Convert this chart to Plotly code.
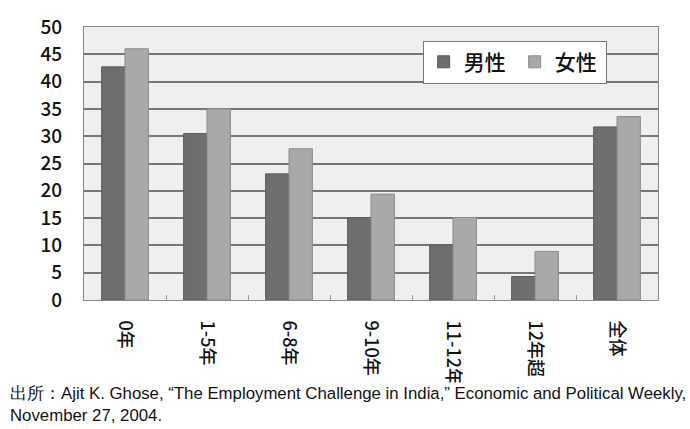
import plotly.graph_objects as go

# Years of schooling categories and shares (%) by sex
categories = ["0年", "1-5年", "6-8年", "9-10年", "11-12年", "12年超", "全体"]
male = [42.7, 30.5, 23.1, 15.1, 10.1, 4.3, 31.7]
female = [46.0, 35.0, 27.7, 19.4, 15.1, 8.9, 33.6]
y_ticks = [0, 5, 10, 15, 20, 25, 30, 35, 40, 45, 50]
source_text = ("出所：Ajit K. Ghose, “The Employment Challenge in India,” Economic and Political Weekly,<br>"
               "November 27, 2004.")

CJK = "Noto Sans CJK JP"

fig = go.Figure()
fig.add_trace(go.Bar(
    x=categories, y=male, name="男性",
    marker=dict(color="#6e6e6e", line=dict(color="#5a5a5a", width=1)),
))
fig.add_trace(go.Bar(
    x=categories, y=female, name="女性",
    marker=dict(color="#a9a9a9", line=dict(color="#8a8a8a", width=1)),
))

fig.update_layout(
    width=690, height=429,
    margin=dict(l=84, r=32, t=27, b=129),
    paper_bgcolor="white",
    plot_bgcolor="#efefef",
    barmode="group",
    bargap=0.43,
    bargroupgap=0,
    font=dict(family=CJK, color="#111111", size=18),
    legend=dict(
        orientation="h",
        x=0.59, y=0.95, xanchor="left", yanchor="top",
        bgcolor="white", bordercolor="#777777", borderwidth=1,
        font=dict(family=CJK, size=21, color="#111111", weight=500),
        itemwidth=30,
        entrywidth=46, entrywidthmode="pixels",
        tracegroupgap=0,
    ),
    xaxis=dict(
        tickangle=90,
        showline=True, linecolor="#888888", linewidth=1, mirror=True,
        ticks="inside", tickson="boundaries", ticklen=5, tickcolor="#999999",
        ticklabelstandoff=16,
        tickfont=dict(family=CJK, size=18, color="#111111", weight=500),
        showgrid=False,
    ),
    yaxis=dict(
        range=[0, 50],
        tickvals=y_ticks,
        showline=True, linecolor="#888888", linewidth=1, mirror=True,
        gridcolor="#777777", gridwidth=2,
        ticks="", ticklabelstandoff=17,
        tickfont=dict(family=CJK, size=19, color="#111111", weight=500),
        zeroline=False,
    ),
    showlegend=True,
)

fig.add_annotation(
    text=source_text,
    xref="paper", yref="paper", x=-0.132, y=-0.3,
    xanchor="left", yanchor="top", align="left",
    showarrow=False,
    bgcolor="white",
    font=dict(family="Liberation Sans", size=16.8, color="#111111"),
)

fig.write_html("out.html")
